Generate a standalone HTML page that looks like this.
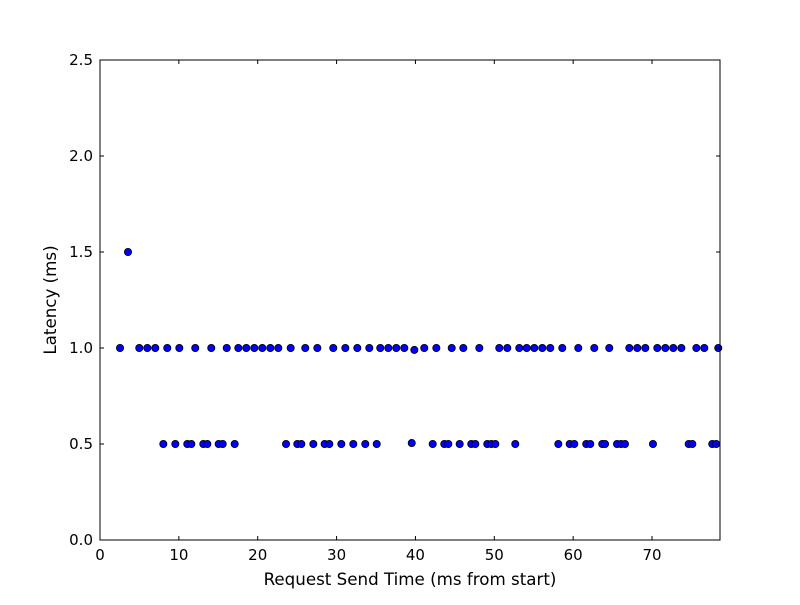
<!DOCTYPE html>
<html><head><meta charset="utf-8"><style>
body{margin:0;background:#fff;}
svg text{font-family:"DejaVu Sans","Liberation Sans",sans-serif;fill:#000;}
</style></head><body>
<svg id="chart" width="800" height="600" xmlns="http://www.w3.org/2000/svg">
<rect width="800" height="600" fill="#fff"/>
<g id="marks"></g>
<rect x="100" y="60" width="620" height="480" fill="none" stroke="#000" stroke-width="1"/>
<g id="axes"></g>
<text x="410" y="585" text-anchor="middle" font-size="16.7">Request Send Time (ms from start)</text>
<text transform="translate(56,300) rotate(-90)" text-anchor="middle" font-size="16.7">Latency (ms)</text>
</svg>
<script>
const xValues = [2.54,4.98,6.00,7.01,8.53,10.06,12.08,14.11,16.07,17.54,18.55,19.57,20.58,21.60,22.61,24.18,26.03,27.56,29.58,31.11,32.63,34.15,35.54,36.56,37.57,38.59,39.86,41.12,42.65,44.60,46.07,48.10,50.63,51.65,53.17,54.11,55.07,56.09,57.10,58.62,60.65,62.68,64.58,67.12,68.13,69.15,70.67,71.69,72.70,73.72,75.62,76.63,78.40,
8.03,9.55,11.07,11.58,13.10,13.61,15.05,15.56,17.08,23.59,25.02,25.53,27.05,28.49,29.08,30.60,32.12,33.64,35.09,39.53,42.19,43.66,44.17,45.61,47.08,47.59,49.11,49.62,50.13,52.66,58.12,59.56,60.14,61.66,62.17,63.69,64.04,65.56,66.07,66.57,70.12,74.65,75.11,77.64,78.14,
3.55];
const yValues = [1,1,1,1,1,1,1,1,1,1,1,1,1,1,1,1,1,1,1,1,1,1,1,1,1,1,0.99,1,1,1,1,1,1,1,1,1,1,1,1,1,1,1,1,1,1,1,1,1,1,1,1,1,1,
0.5,0.5,0.5,0.5,0.5,0.5,0.5,0.5,0.5,0.5,0.5,0.5,0.5,0.5,0.5,0.5,0.5,0.5,0.5,0.505,0.5,0.5,0.5,0.5,0.5,0.5,0.5,0.5,0.5,0.5,0.5,0.5,0.5,0.5,0.5,0.5,0.5,0.5,0.5,0.5,0.5,0.5,0.5,0.5,0.5,
1.5];
const xTicks = [0,10,20,30,40,50,60,70];
const yTicks = [0.0,0.5,1.0,1.5,2.0,2.5];
const xMin = 0, xMax = 78.62, yMin = 0, yMax = 2.5;

const L=100,R=720,T=60,B=540;
const sx = v => L + (v - xMin) / (xMax - xMin) * (R - L);
const sy = v => B - (v - yMin) / (yMax - yMin) * (B - T);
const NS = "http://www.w3.org/2000/svg";
const marks = document.getElementById('marks');
const axes = document.getElementById('axes');

for (let i = 0; i < xValues.length; i++) {
  const c = document.createElementNS(NS, 'circle');
  c.setAttribute('cx', sx(xValues[i]));
  c.setAttribute('cy', sy(yValues[i]));
  c.setAttribute('r', 3.6);
  c.setAttribute('fill', '#0000ff');
  c.setAttribute('stroke', '#000');
  c.setAttribute('stroke-width', 0.8);
  
  
  marks.appendChild(c);
}
xTicks.forEach(t => {
  const x = sx(t);
  [[B, B-4],[T, T+4]].forEach(([a,b]) => {
    const l = document.createElementNS(NS, 'line');
    l.setAttribute('x1', x); l.setAttribute('x2', x);
    l.setAttribute('y1', a); l.setAttribute('y2', b);
    l.setAttribute('stroke', '#000');
    
    
    axes.appendChild(l);
  });
  const tx = document.createElementNS(NS, 'text');
  tx.setAttribute('x', x); tx.setAttribute('y', B + 20);
  tx.setAttribute('text-anchor', 'middle'); tx.setAttribute('font-size', '15');
  tx.textContent = String(t);
  
  
  axes.appendChild(tx);
});
yTicks.forEach(t => {
  const y = sy(t);
  [[L, L+4],[R, R-4]].forEach(([a,b]) => {
    const l = document.createElementNS(NS, 'line');
    l.setAttribute('x1', a); l.setAttribute('x2', b);
    l.setAttribute('y1', y); l.setAttribute('y2', y);
    l.setAttribute('stroke', '#000');
    
    
    axes.appendChild(l);
  });
  const tx = document.createElementNS(NS, 'text');
  tx.setAttribute('x', L - 7); tx.setAttribute('y', y + 5);
  tx.setAttribute('text-anchor', 'end'); tx.setAttribute('font-size', '15');
  tx.textContent = t.toFixed(1);
  
  
  axes.appendChild(tx);
});
</script>
</body></html>
